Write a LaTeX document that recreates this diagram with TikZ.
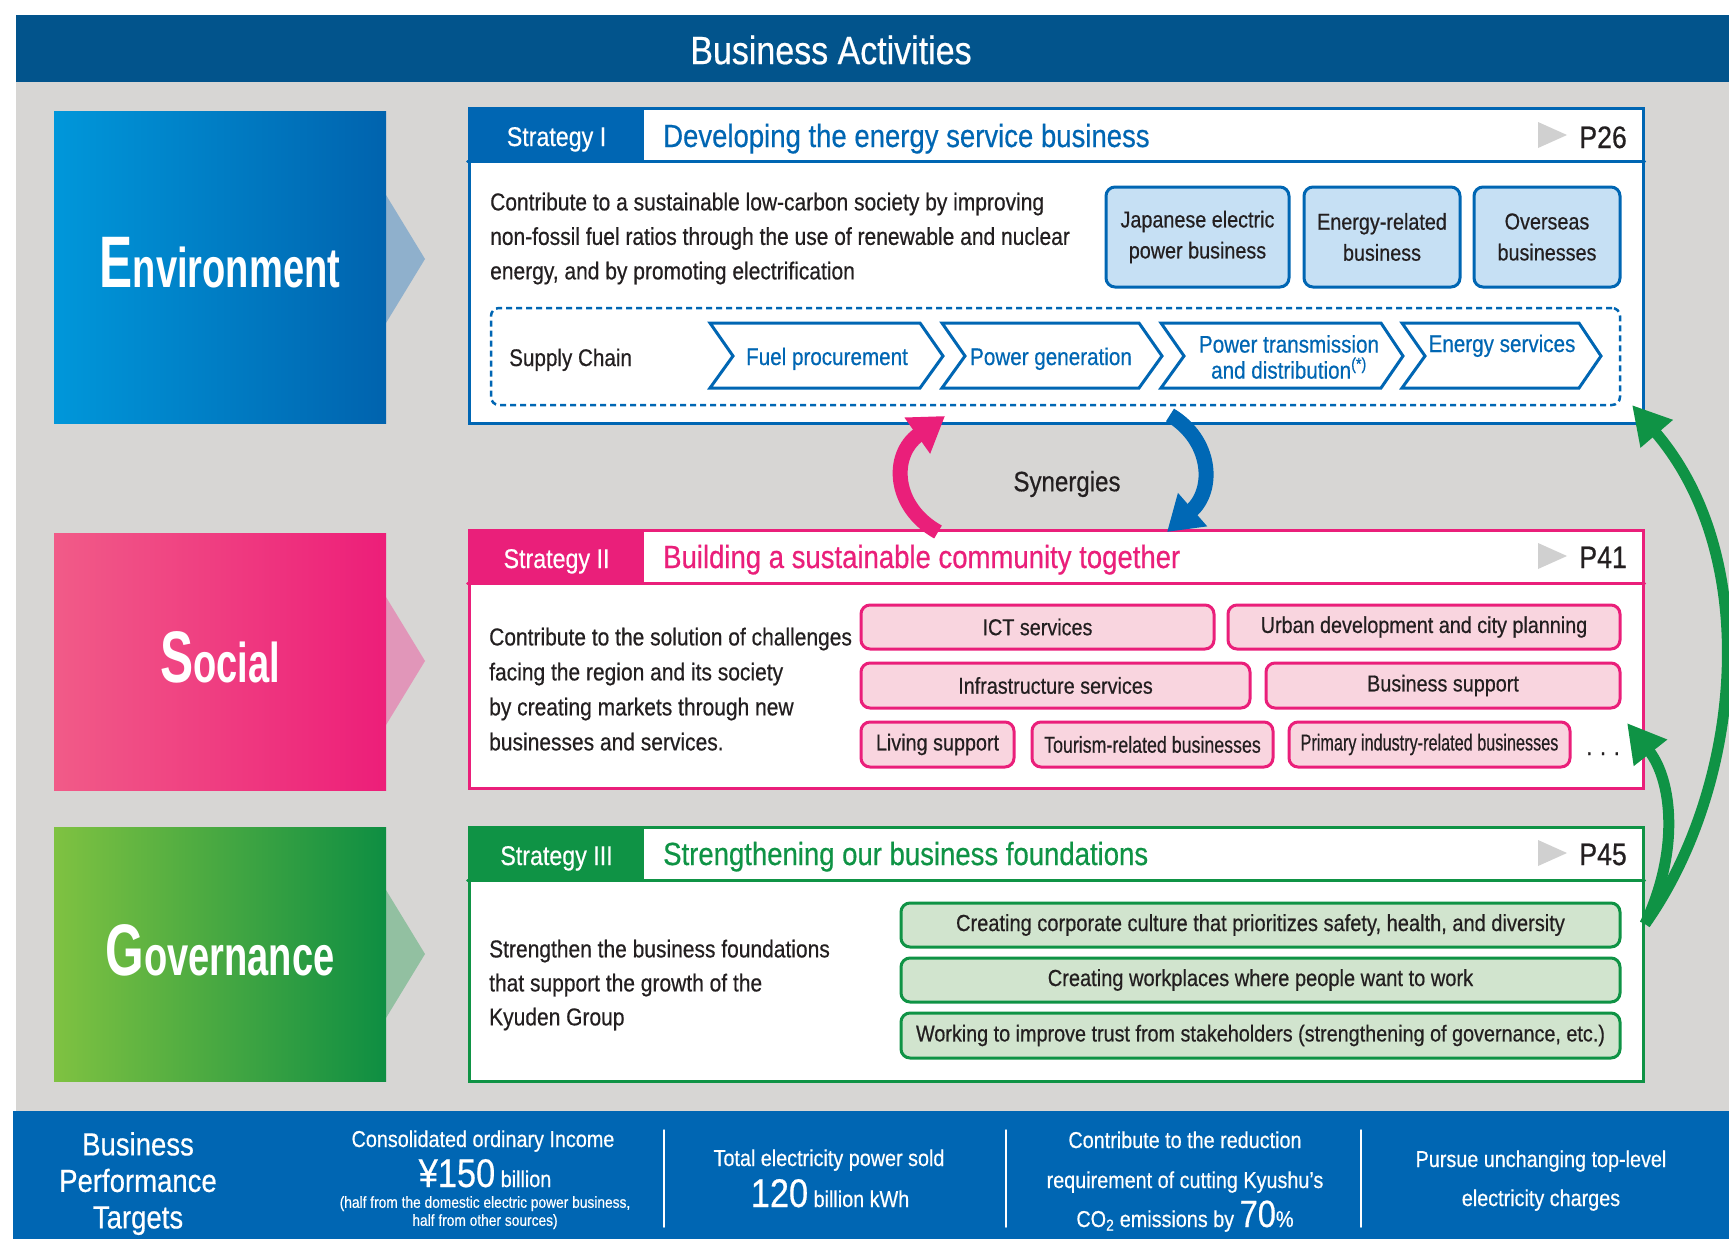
\documentclass[tikz,border=0pt]{standalone}
\usepackage{fontspec}
\setmainfont{Liberation Sans}[FakeStretch=0.86,FakeBold=0.5]
\newfontfamily\pillarfont{Liberation Sans}[FakeStretch=0.68]
\usepackage{graphicx}
\usetikzlibrary{arrows.meta,positioning}

\newcommand{\fsz}[2]{\fontsize{#1}{#2}\selectfont}

\begin{document}
\begin{tikzpicture}
		[x=1pt,y=-1pt,line cap=round,
		%Styles
		pillar/.style={minimum width=332pt,inner sep=0pt,text=white,font=\pillarfont\bfseries},
		panel/.style={draw=#1,line width=3pt,fill=white,inner sep=0pt,minimum width=1174pt},
		tab/.style={fill=#1,text=white,inner sep=0pt,minimum width=175pt,minimum height=53pt,text height=23pt,text depth=0pt,font=\fsz{27}{27}},
		strategy title/.style={anchor=base west,inner sep=0pt,text=#1,font=\fsz{32}{32}},
		page ref/.style={anchor=base east,inner sep=0pt,text=textgray,font=\fsz{31}{31}},
		body text/.style={anchor=north west,align=left,inner sep=0pt,text=textgray,font=\fsz{24.4}{34.5}},
		item box/.style={draw=#1,line width=3pt,rounded corners=9pt,inner sep=0pt,align=center,text=textgray,font=\fsz{23}{31}},
		chevron/.style={draw=stratblue,line width=3pt,line join=miter},
		chevron text/.style={inner sep=0pt,text=stratblue,align=center,font=\fsz{24}{26}},
		target/.style={inner sep=0pt,text=white,align=center,font=\fsz{23}{23}},
		separator/.style={white,line width=1.5pt},
		synergy/.style={line width=15pt,line cap=butt,-{Triangle[length=34pt,width=42pt]}},
		growth/.style={stratgreen,line width=11pt,line cap=butt,-{Triangle[length=38pt,width=40pt]}}
		]
		
		%Colors
		\definecolor{headblue}{HTML}{02548C}
		\definecolor{bggray}{HTML}{D7D6D4}
		\definecolor{stratblue}{HTML}{0066B3}
		\definecolor{stratpink}{HTML}{EA1F7A}
		\definecolor{stratgreen}{HTML}{0F9345}
		\definecolor{synblue}{HTML}{0068B5}
		\definecolor{boxblue}{HTML}{C6E0F4}
		\definecolor{boxpink}{HTML}{F9D5DF}
		\definecolor{boxgreen}{HTML}{D1E4CE}
		\definecolor{textgray}{HTML}{231F20}
		\definecolor{markgray}{HTML}{D0D0D0}
		\definecolor{envleft}{HTML}{0097DA}
		\definecolor{envright}{HTML}{0063AE}
		\definecolor{envtri}{HTML}{8FB0CC}
		\definecolor{socleft}{HTML}{F15B88}
		\definecolor{socright}{HTML}{ED1E79}
		\definecolor{soctri}{HTML}{E196B9}
		\definecolor{govleft}{HTML}{7FC241}
		\definecolor{govright}{HTML}{0E8E42}
		\definecolor{govtri}{HTML}{92C0A1}
		
		%Background
		\useasboundingbox (0,0) rectangle (1729,1239);
		\fill[white] (0,0) rectangle (1729,1239);
		\fill[headblue] (16,15) rectangle (1729,82);
		\fill[bggray] (16,82) rectangle (1729,1111);
		\fill[stratblue] (13,1111) rectangle (1729,1239);
		\node[inner sep=0pt,text=white,font=\fsz{39.5}{39.5}] (heading) at (831,50) {Business Activities};
		
		%Pillars
		\fill[envtri] (386,195) -- (425,259) -- (386,323) -- cycle;
		\fill[soctri] (386,597) -- (425,661) -- (386,725) -- cycle;
		\fill[govtri] (386,890) -- (425,954) -- (386,1018) -- cycle;
		\node[pillar,left color=envleft,right color=envright,minimum height=312pt] (env) at (220,267) {};
		\node[pillar,left color=socleft,right color=socright,minimum height=257pt] (soc) at (220,661.5) {};
		\node[pillar,left color=govleft,right color=govright,minimum height=254pt] (gov) at (220,954) {};
		\node[pillar,yshift=4pt] (envtext) at (env.center) {\fsz{73}{73}E\fsz{56}{56}nvironment};
		\node[pillar,yshift=4pt] (soctext) at (soc.center) {\fsz{73}{73}S\fsz{56}{56}ocial};
		\node[pillar,yshift=4pt] (govtext) at (gov.center) {\fsz{73}{73}G\fsz{56}{56}overnance};
		
		%Strategy I
		\node[panel=stratblue,minimum height=315pt] (s1) at (1056,265.5) {};
		\node[tab=stratblue] (tab1) at (556.5,134.5) {Strategy I};
		\draw[stratblue,line width=3pt] (s1.west |- tab1.south) -- (s1.east |- tab1.south);
		\node[strategy title=stratblue] (title1) at (663,147) {Developing the energy service business};
		\fill[markgray] (1538,122) -- (1567,135) -- (1538,148) -- cycle;
		\node[page ref] (p26) at (1627,148) {P26};
		\node[body text] (body1) at (490,192.5) {Contribute to a sustainable low-carbon society by improving\\non-fossil fuel ratios through the use of renewable and nuclear\\energy, and by promoting electrification};
		\node[item box=stratblue,fill=boxblue,minimum width=183pt,minimum height=100pt] (domestic) at (1197.5,237) {Japanese electric\\power business};
		\node[item box=stratblue,fill=boxblue,minimum width=156pt,minimum height=100pt] (energy) at (1382,237) {Energy-related\\business};
		\node[item box=stratblue,fill=boxblue,minimum width=146pt,minimum height=100pt] (overseas) at (1547,237) {Overseas\\businesses};
		\node[draw=stratblue,line width=2.5pt,line cap=butt,dash pattern=on 6pt off 4pt,rounded corners=8pt,minimum width=1129pt,minimum height=97pt] (chain) at (1055.5,356.5) {};
		\node[anchor=base west,inner sep=0pt,text=textgray,font=\fsz{24}{24}] (chainlabel) at (509,366) {Supply Chain};
		\draw[chevron] (710,323) -- (920,323) -- (943,356) -- (920,388) -- (710,388) -- (733,356) -- cycle;
		\draw[chevron] (942,323) -- (1139,323) -- (1162,356) -- (1139,388) -- (942,388) -- (965,356) -- cycle;
		\draw[chevron] (1161,323) -- (1381,323) -- (1403,356) -- (1381,388) -- (1161,388) -- (1184,356) -- cycle;
		\draw[chevron] (1402,323) -- (1579,323) -- (1601,356) -- (1579,388) -- (1402,388) -- (1425,356) -- cycle;
		\node[chevron text,anchor=base] (fuel) at (827,365) {Fuel procurement};
		\node[chevron text,anchor=base] (generation) at (1051,365) {Power generation};
		\node[chevron text,anchor=north] (grid) at (1289,335) {Power transmission\\and distribution\textsuperscript{(*)}};
		\node[chevron text,anchor=base] (services) at (1502,352) {Energy services};
		
		%Strategy II
		\node[panel=stratpink,minimum height=258pt] (s2) at (1056,659) {};
		\node[tab=stratpink] (tab2) at (556.5,556.5) {Strategy II};
		\draw[stratpink,line width=3pt] (s2.west |- tab2.south) -- (s2.east |- tab2.south);
		\node[strategy title=stratpink] (title2) at (663,568) {Building a sustainable community together};
		\fill[markgray] (1538,543) -- (1567,556) -- (1538,569) -- cycle;
		\node[page ref] (p41) at (1627,568) {P41};
		\node[body text,font=\fsz{24.4}{35}] (body2) at (489,627.5) {Contribute to the solution of challenges\\facing the region and its society\\by creating markets through new\\businesses and services.};
		\node[item box=stratpink,fill=boxpink,minimum width=353pt,minimum height=44pt] (ict) at (1037.5,627) {ICT services};
		\node[item box=stratpink,fill=boxpink,minimum width=392pt,minimum height=44pt] (urban) at (1424,627) {Urban development and city planning};
		\node[item box=stratpink,fill=boxpink,minimum width=389pt,minimum height=45pt] (infra) at (1055.5,685.5) {Infrastructure services};
		\node[item box=stratpink,fill=boxpink,minimum width=354pt,minimum height=45pt] (support) at (1443,685.5) {Business support};
		\node[item box=stratpink,fill=boxpink,minimum width=153pt,minimum height=45pt] (living) at (937.5,744.5) {Living support};
		\node[item box=stratpink,fill=boxpink,minimum width=241pt,minimum height=45pt] (tourism) at (1152.5,744.5) {\scalebox{0.9}[1]{Tourism-related businesses}};
		\node[item box=stratpink,fill=boxpink,minimum width=281pt,minimum height=45pt] (primary) at (1429.5,744.5) {\scalebox{0.82}[1]{Primary industry-related businesses}};
		\node[anchor=base,inner sep=0pt,text=textgray,font=\fsz{24}{24}] (more) at (1603,755) {.\,\,.\,\,.};
		
		%Strategy III
		\node[panel=stratgreen,minimum height=254pt] (s3) at (1056,954) {};
		\node[tab=stratgreen] (tab3) at (556.5,853.5) {Strategy III};
		\draw[stratgreen,line width=3pt] (s3.west |- tab3.south) -- (s3.east |- tab3.south);
		\node[strategy title=stratgreen] (title3) at (663,865) {Strengthening our business foundations};
		\fill[markgray] (1538,840) -- (1567,853) -- (1538,866) -- cycle;
		\node[page ref] (p45) at (1627,865) {P45};
		\node[body text,font=\fsz{24.4}{34}] (body3) at (489,939.5) {Strengthen the business foundations\\that support the growth of the\\Kyuden Group};
		\node[item box=stratgreen,fill=boxgreen,minimum width=719pt,minimum height=44pt,font=\fsz{23.3}{31}] (culture) at (1260.5,925) {Creating corporate culture that prioritizes safety, health, and diversity};
		\node[item box=stratgreen,fill=boxgreen,minimum width=719pt,minimum height=44pt,font=\fsz{23.3}{31}] (workplace) at (1260.5,980) {Creating workplaces where people want to work};
		\node[item box=stratgreen,fill=boxgreen,minimum width=719pt,minimum height=45pt] (trust) at (1260.5,1035.5) {Working to improve trust from stakeholders (strengthening of governance, etc.)};
		
		%Synergies
		\node[inner sep=0pt,text=textgray,font=\fsz{28}{28}] (synergies) at (1067,484) {Synergies};
		\coordinate (pinktail) at (938,532);
		\coordinate (pinkhead) at (945,416);
		\coordinate (bluetail) at (1170,415);
		\coordinate (bluehead) at (1167,532);
		\draw[synergy,stratpink] (pinktail) .. controls (893,507) and (890,455) .. (pinkhead);
		\draw[synergy,synblue] (bluetail) .. controls (1212,440) and (1215,490) .. (bluehead);
		
		%Growth arrows
		\coordinate (growtail) at (1645,924);
		\coordinate (growtop) at (1632,405);
		\coordinate (growmid) at (1627,723);
		\draw[growth] (growtail) .. controls (1740,790) and (1765,560) .. (growtop);
		\draw[growth] (growtail) .. controls (1680,850) and (1672,780) .. (growmid);
		
		%Targets
		\node[target,anchor=north,font=\fsz{32}{36.5}] (targets) at (138,1132) {Business\\Performance\\Targets};
		\node[target,anchor=base] (income) at (483,1147) {Consolidated ordinary Income};
		\node[target,anchor=base] (incomeval) at (485,1187) {{\fsz{40}{40}¥150} billion};
		\node[target,anchor=north,font=\fsz{16}{18}] (incomenote) at (485,1196) {(half from the domestic electric power business,\\half from other sources)};
		\node[target,anchor=base] (sold) at (829,1166) {Total electricity power sold};
		\node[target,anchor=base] (soldval) at (830,1207) {{\fsz{40}{40}120} billion kWh};
		\node[target,anchor=base] (co2a) at (1185,1148) {Contribute to the reduction};
		\node[target,anchor=base] (co2b) at (1185,1188) {requirement of cutting Kyushu’s};
		\node[target,anchor=base] (co2c) at (1185,1227) {CO\textsubscript{2} emissions by {\fsz{38}{38}70}\%};
		\node[target,anchor=base] (chargesa) at (1541,1167) {Pursue unchanging top-level};
		\node[target,anchor=base] (chargesb) at (1541,1206) {electricity charges};
		\draw[separator] (664,1130) -- (664,1227);
		\draw[separator] (1006,1130) -- (1006,1227);
		\draw[separator] (1361,1130) -- (1361,1227);
	\end{tikzpicture}
\end{document}
